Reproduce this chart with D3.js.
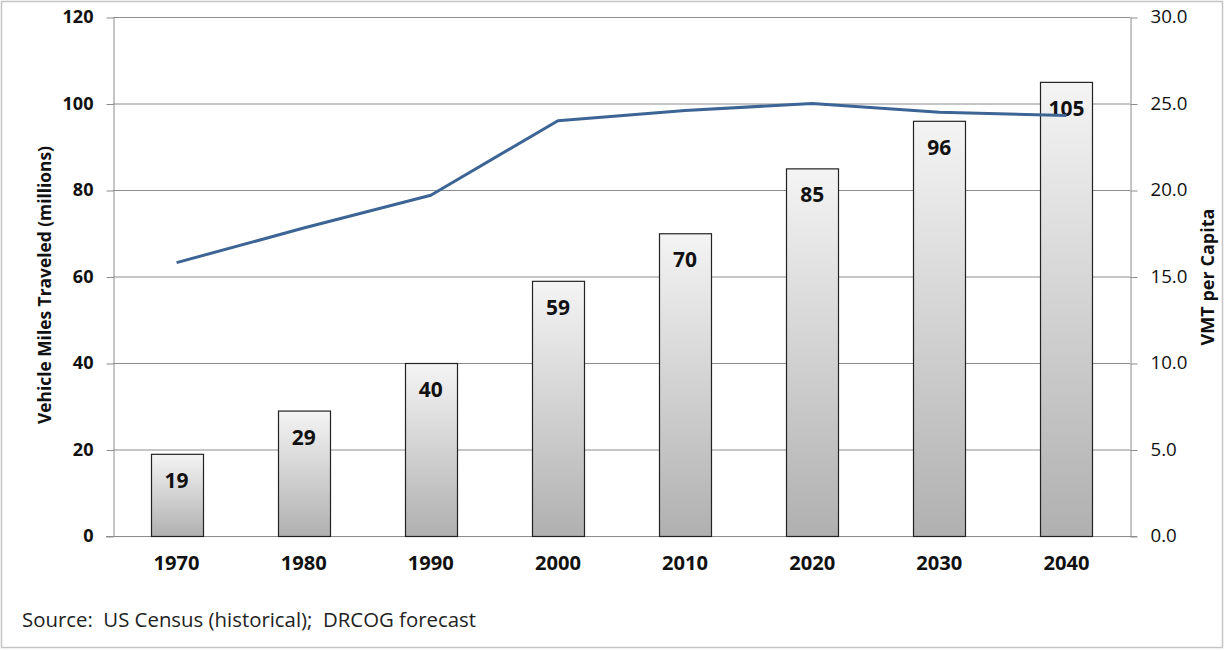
<!DOCTYPE html>
<html><head><meta charset="utf-8">
<script src="https://cdn.jsdelivr.net/npm/d3@7"></script>
<style>body{margin:0;background:#fff}svg{display:block}</style>
</head><body>
<svg id="c" width="1225" height="650"></svg>
<script>
const years = ["1970","1980","1990","2000","2010","2020","2030","2040"];
const vmt = [19,29,40,59,70,85,96,105];
const perCapita = [15.8,17.8,19.7,24.0,24.6,25.0,24.5,24.3];
const leftTicks = [0,20,40,60,80,100,120];
const rightTicks = [0,5,10,15,20,25,30];

const svg = d3.select("#c");
const L=113, R=1130, T=17, B=536;
const font = "'Open Sans', sans-serif";

// scale font size of a selection so that a reference node reaches target width
function fit(sel, refNode, target){
  const w = refNode.getComputedTextLength();
  const s = parseFloat(d3.select(refNode).attr("font-size"));
  sel.attr("font-size", (s*target/w).toFixed(2));
}

svg.append("rect").attr("x",1.5).attr("y",1.5).attr("width",1221).attr("height",646)
  .attr("fill","#fff").attr("stroke","#c4c4c4").attr("stroke-width",1.5);

const x = d3.scaleBand().domain(years).range([L,R]).paddingInner(0.59).paddingOuter(0.295);
const y = d3.scaleLinear().domain([0,120]).range([B,T]);
const y2 = d3.scaleLinear().domain([0,30]).range([B,T]);

// gridlines
svg.append("g").selectAll("line").data(leftTicks.filter(d=>d>0)).join("line")
  .attr("x1",L).attr("x2",R).attr("y1",d=>y(d)+0.5).attr("y2",d=>y(d)+0.5)
  .attr("stroke","#8c8c8c").attr("stroke-width",1);

// left axis
const gl = svg.append("g").attr("transform",`translate(${L+0.5},0)`)
  .call(d3.axisLeft(y).tickValues(leftTicks).tickSize(7).tickPadding(13).tickSizeOuter(0));
gl.select(".domain").attr("stroke","#8c8c8c");
gl.selectAll(".tick line").attr("stroke","#8c8c8c").attr("transform","translate(0,0.5)");
const glt = gl.selectAll("text").attr("font-family",font).attr("font-weight","bold").attr("font-size",16).attr("fill","#111");
fit(glt, glt.nodes()[6], 31);

// right axis
const gr = svg.append("g").attr("transform",`translate(${R+0.5},0)`)
  .call(d3.axisRight(y2).tickValues(rightTicks).tickFormat(d3.format(".1f")).tickSize(7).tickPadding(13).tickSizeOuter(0));
gr.select(".domain").attr("stroke","#8c8c8c");
gr.selectAll(".tick line").attr("stroke","#8c8c8c").attr("transform","translate(0,0.5)");
const grt = gr.selectAll("text").attr("font-family",font).attr("font-size",16).attr("fill","#111");
fit(grt, grt.nodes()[6], 37);

// bottom axis line
svg.append("line").attr("x1",L-7).attr("x2",R+7).attr("y1",B+0.5).attr("y2",B+0.5).attr("stroke","#8c8c8c");

// gradient
const defs = svg.append("defs");
const grad = defs.append("linearGradient").attr("id","bg").attr("x1",0).attr("y1",0).attr("x2",0).attr("y2",1);
grad.append("stop").attr("offset","0%").attr("stop-color","#f4f4f4");
grad.append("stop").attr("offset","100%").attr("stop-color","#b0b0b0");

// bars
const data = years.map((d,i)=>({year:d,v:vmt[i],p:perCapita[i]}));
svg.append("g").selectAll("rect").data(data).join("rect")
  .attr("x",d=>Math.round(x(d.year))+0.5).attr("width",Math.round(x.bandwidth()))
  .attr("y",d=>y(d.v)+0.5).attr("height",d=>B-y(d.v))
  .attr("fill","url(#bg)").attr("stroke","#222").attr("stroke-width",1.2);

// bar labels
const bl = svg.append("g").selectAll("text").data(data).join("text")
  .attr("x",d=>x(d.year)+x.bandwidth()/2).attr("y",d=>y(d.v)+34)
  .attr("text-anchor","middle").attr("font-family",font).attr("font-weight","bold")
  .attr("font-size",19).attr("fill","#111").text(d=>d.v);
fit(bl, bl.nodes()[0], 24);

// x labels
const xl = svg.append("g").selectAll("text").data(data).join("text")
  .attr("x",d=>x(d.year)+x.bandwidth()/2).attr("y",570)
  .attr("text-anchor","middle").attr("font-family",font).attr("font-weight","bold")
  .attr("font-size",16).attr("fill","#111").text(d=>d.year);
fit(xl, xl.nodes()[0], 46);

// line
const line = d3.line().x(d=>x(d.year)+x.bandwidth()/2).y(d=>y2(d.p));
svg.append("path").datum(data).attr("d",line).attr("fill","none")
  .attr("stroke","#3c6494").attr("stroke-width",3).attr("stroke-linejoin","round");

// axis titles
const t1 = svg.append("text").attr("transform",`translate(51,285) rotate(-90)`)
  .attr("text-anchor","middle").attr("font-family",font).attr("font-weight","bold")
  .attr("font-size",14).attr("fill","#111").text("Vehicle Miles Traveled (millions)");
fit(t1, t1.node(), 278);
const t2 = svg.append("text").attr("transform",`translate(1214,277) rotate(-90)`)
  .attr("text-anchor","middle").attr("font-family",font).attr("font-weight","bold")
  .attr("font-size",14).attr("fill","#111").text("VMT per Capita");
fit(t2, t2.node(), 137);

// source
const src = svg.append("text").attr("x",22).attr("y",627).attr("font-family",font)
  .attr("font-size",16).attr("fill","#222").attr("xml:space","preserve").text("Source:  US Census (historical);  DRCOG forecast");
fit(src, src.node(), 454);
</script>
</body></html>
